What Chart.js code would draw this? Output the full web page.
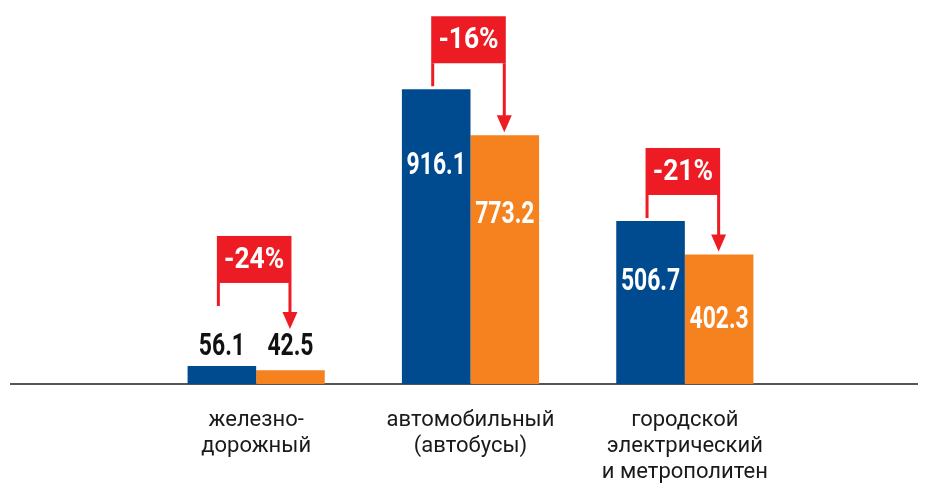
<!DOCTYPE html>
<html>
<head>
<meta charset="utf-8">
<script src="https://cdn.jsdelivr.net/npm/chart.js@4"></script>
<style>
  html, body { margin: 0; padding: 0; background: #fff; }
  #wrap { width: 928px; height: 486px; }
</style>
</head>
<body>
<div id="wrap"><canvas id="myChart" width="928" height="486"></canvas></div>
<script>
// data
const categories = [
  ["железно-", "дорожный"],
  ["автомобильный", "(автобусы)"],
  ["городской", "электрический", "и метрополитен"]
];
const valuesBefore = [56.1, 916.1, 506.7];
const valuesAfter = [42.5, 773.2, 402.3];
const changeLabels = ["-24%", "-16%", "-21%"];

const BLUE = "#004a8f";
const ORANGE = "#f5821f";
const RED = "#ed1c24";

// draw text squeezed horizontally (condensed look)
function squeezedText(ctx, txt, x, y, sx) {
  ctx.save();
  ctx.translate(x, y);
  ctx.scale(sx, 1);
  ctx.fillText(txt, 0, 0);
  ctx.restore();
}

const baseLine = {
  id: "baseLine",
  beforeDatasetsDraw(chart) {
    const ctx = chart.ctx;
    const y = chart.scales.y.getPixelForValue(0);
    ctx.save();
    ctx.strokeStyle = "#555";
    ctx.lineWidth = 2;
    ctx.beginPath();
    ctx.moveTo(10, y);
    ctx.lineTo(918, y);
    ctx.stroke();
    ctx.restore();
  }
};

const valueLabels = {
  id: "valueLabels",
  afterDatasetsDraw(chart) {
    const ctx = chart.ctx;
    const m0 = chart.getDatasetMeta(0).data;
    const m1 = chart.getDatasetMeta(1).data;
    ctx.save();
    ctx.font = "bold 31px Roboto";
    ctx.textAlign = "center";
    ctx.textBaseline = "middle";
    chart.labelTops = [];
    for (let i = 0; i < m0.length; i++) {
      const pair = [m0[i], m1[i]];
      const small = pair.some(el => el.base - el.y < 60);
      const topMin = Math.min(m0[i].y, m1[i].y);
      pair.forEach((el, d) => {
        const h = el.base - el.y;
        const v = chart.data.datasets[d].data[i].toFixed(1);
        let cy;
        if (small) {
          ctx.fillStyle = "#111";
          cy = topMin - 19;
        } else {
          ctx.fillStyle = "#fff";
          cy = el.y + 0.12 * h + (d === 0 ? 42 : 50);
        }
        squeezedText(ctx, v, el.x, cy, 0.74);
      });
      chart.labelTops[i] = small ? topMin - 30 : null;
    }
    ctx.restore();
  }
};

const changeArrows = {
  id: "changeArrows",
  afterDraw(chart) {
    const ctx = chart.ctx;
    const m0 = chart.getDatasetMeta(0).data;
    const m1 = chart.getDatasetMeta(1).data;
    ctx.save();
    for (let i = 0; i < m0.length; i++) {
      const a = m0[i], b = m1[i];
      let refA = a.y, refB = b.y;
      const lt = chart.labelTops && chart.labelTops[i];
      if (lt != null) { refA = lt - 27; refB = lt - 4; }
      const lineEndA = refA - 3;
      const tip = refB - 3;
      const boxBottom = lineEndA - 23;
      const boxTop = boxBottom - 47;
      const boxLeft = a.x - 5;
      const boxRight = b.x + 1;

      ctx.fillStyle = RED;
      ctx.fillRect(boxLeft, boxTop, boxRight - boxLeft, boxBottom - boxTop);

      ctx.strokeStyle = RED;
      ctx.lineWidth = 3;
      ctx.beginPath();
      ctx.moveTo(boxLeft + 1.5, boxBottom);
      ctx.lineTo(boxLeft + 1.5, lineEndA);
      ctx.moveTo(boxRight - 1.5, boxBottom);
      ctx.lineTo(boxRight - 1.5, tip - 15);
      ctx.stroke();

      ctx.beginPath();
      ctx.moveTo(boxRight - 1.5 - 7.5, tip - 17);
      ctx.lineTo(boxRight - 1.5 + 7.5, tip - 17);
      ctx.lineTo(boxRight - 1.5, tip);
      ctx.closePath();
      ctx.fill();

      ctx.fillStyle = "#fff";
      ctx.font = "bold 30px Roboto";
      ctx.textAlign = "center";
      ctx.textBaseline = "middle";
      squeezedText(ctx, changeLabels[i], (boxLeft + boxRight) / 2, (boxTop + boxBottom) / 2 + 1, 0.88);
    }
    ctx.restore();
  }
};

const ctx = document.getElementById("myChart").getContext("2d");
new Chart(ctx, {
  type: "bar",
  data: {
    labels: categories,
    datasets: [
      { label: "до", data: valuesBefore, backgroundColor: BLUE, categoryPercentage: 0.64, barPercentage: 1 },
      { label: "после", data: valuesAfter, backgroundColor: ORANGE, categoryPercentage: 0.64, barPercentage: 1 }
    ]
  },
  options: {
    responsive: false,
    animation: false,
    devicePixelRatio: 1,
    layout: { padding: { left: 149, right: 136, top: 14, bottom: 0 } },
    plugins: {
      legend: { display: false },
      tooltip: { enabled: false }
    },
    scales: {
      x: {
        grid: { display: false, drawTicks: false },
        border: { display: false },
        ticks: {
          color: "#1a1a1a",
          font: { family: "Roboto", size: 22, lineHeight: 1.18 },
          padding: 24,
          maxRotation: 0,
          autoSkip: false
        },
        afterFit: (s) => { s.height = 102; }
      },
      y: { display: false, min: 0, max: 1150 }
    }
  },
  plugins: [baseLine, valueLabels, changeArrows]
});
</script>
</body>
</html>
